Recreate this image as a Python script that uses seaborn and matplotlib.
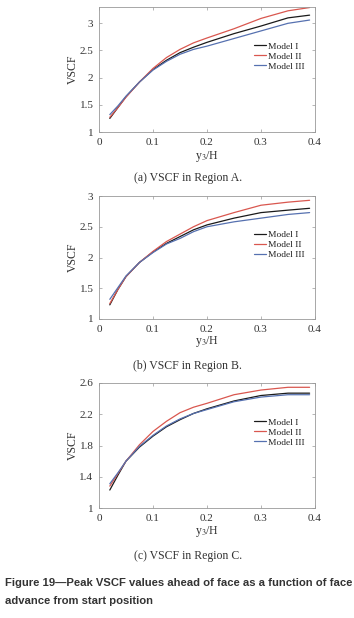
import numpy as np
import pandas as pd
import matplotlib
matplotlib.use('Agg')
import matplotlib.pyplot as plt
import seaborn as sns
from matplotlib.ticker import FuncFormatter

# values (y3/H vs peak VSCF)
x_pos = [0.02, 0.035, 0.05, 0.075, 0.1, 0.125, 0.15, 0.175, 0.2, 0.25, 0.3, 0.35, 0.39]

a_model1 = [1.25, 1.45, 1.65, 1.92, 2.15, 2.32, 2.46, 2.56, 2.65, 2.81, 2.95, 3.10, 3.15]
a_model2 = [1.27, 1.45, 1.64, 1.92, 2.17, 2.37, 2.52, 2.64, 2.73, 2.90, 3.09, 3.23, 3.29]
a_model3 = [1.32, 1.48, 1.66, 1.92, 2.14, 2.30, 2.43, 2.52, 2.58, 2.72, 2.86, 3.00, 3.06]

b_model1 = [1.23, 1.48, 1.69, 1.92, 2.09, 2.23, 2.34, 2.45, 2.53, 2.64, 2.73, 2.77, 2.80]
b_model2 = [1.25, 1.48, 1.69, 1.92, 2.10, 2.26, 2.38, 2.50, 2.60, 2.73, 2.85, 2.90, 2.93]
b_model3 = [1.32, 1.51, 1.70, 1.92, 2.08, 2.22, 2.31, 2.42, 2.50, 2.58, 2.64, 2.70, 2.73]

c_model1 = [1.23, 1.42, 1.60, 1.78, 1.92, 2.04, 2.13, 2.21, 2.27, 2.37, 2.44, 2.47, 2.47]
c_model2 = [1.28, 1.44, 1.60, 1.81, 1.98, 2.11, 2.22, 2.29, 2.34, 2.45, 2.51, 2.545, 2.545]
c_model3 = [1.31, 1.45, 1.60, 1.79, 1.93, 2.05, 2.14, 2.21, 2.26, 2.36, 2.42, 2.45, 2.45]

models = ['Model I', 'Model II', 'Model III']
x_ticks = [0, 0.1, 0.2, 0.3, 0.4]
a_yticks = [1, 1.5, 2, 2.5, 3]
b_yticks = [1, 1.5, 2, 2.5, 3]
c_yticks = [1, 1.4, 1.8, 2.2, 2.6]
captions = ['(a) VSCF in Region A.', '(b) VSCF in Region B.', '(c) VSCF in Region C.']

palette = {'Model I': '#1a1a1a', 'Model II': '#d9574f', 'Model III': '#5671b0'}

sns.set_style('white')
plt.rcParams['font.family'] = ['Liberation Serif', 'DejaVu Serif']
plt.rcParams['mathtext.fontset'] = 'stix'


def make_df(s1, s2, s3):
    rows = []
    for name, vals in zip(models, [s1, s2, s3]):
        for xv, yv in zip(x_pos, vals):
            rows.append({'x': xv, 'VSCF': yv, 'model': name})
    return pd.DataFrame(rows)


panels = [
    (make_df(a_model1, a_model2, a_model3), (1, 3.3), a_yticks, [7, 132], 149, 178),
    (make_df(b_model1, b_model2, b_model3), (1, 3.0), b_yticks, [196, 319], 334, 366),
    (make_df(c_model1, c_model2, c_model3), (1, 2.6), c_yticks, [383, 508], 524, 556),
]

W, H = 354, 618
fig = plt.figure(figsize=(W / 100, H / 100), dpi=100)
left, right = 99, 315

for (df, ylim, yticks, (top, bot), xlab_y, cap_y), cap in zip(panels, captions):
    ax = fig.add_axes([left / W, 1 - bot / H, (right - left) / W, (bot - top) / H])
    sns.lineplot(data=df, x='x', y='VSCF', hue='model', palette=palette,
                 linewidth=0.9, ax=ax)
    ax.set_xlim(0, 0.4)
    ax.set_ylim(*ylim)
    ax.set_xticks(x_ticks)
    ax.set_yticks(yticks)
    ax.xaxis.set_major_formatter(FuncFormatter(lambda v, p: '%g' % v))
    ax.yaxis.set_major_formatter(FuncFormatter(lambda v, p: '%g' % v))
    ax.tick_params(direction='in', length=2.5, width=0.5, colors='#999999',
                   labelcolor='#333333', labelsize=8, top=True, right=True,
                   bottom=True, left=True, pad=4)
    for sp in ax.spines.values():
        sp.set_color('#999999')
        sp.set_linewidth(0.6)
    ax.set_xlabel(r'y$_3$/H', fontsize=8.5, color='#333333')
    ax.xaxis.set_label_coords(0.5, -(xlab_y - bot) / (bot - top))
    ax.set_ylabel('VSCF', fontsize=8.5, color='#333333')
    ax.yaxis.set_label_coords(-0.095, 0.5)
    leg = ax.legend(loc='upper right', bbox_to_anchor=(0.97, 0.75), frameon=False,
                    fontsize=6.8, handlelength=1.3, handletextpad=0.2,
                    labelspacing=0.15, borderaxespad=0)
    for t in leg.get_texts():
        t.set_color('#222222')
    fig.text(0.5 + 0.03, 1 - cap_y / H, cap, ha='center', va='center',
             fontsize=8.5, color='#333333')

fig.text(5 / W, 1 - 583 / H, 'Figure 19\u2014Peak VSCF values ahead of face as a function of face',
         ha='left', va='center', fontsize=8.1, fontweight='bold',
         family=['Liberation Sans', 'DejaVu Sans'], color='#333333')
fig.text(5 / W, 1 - 601 / H, 'advance from start position',
         ha='left', va='center', fontsize=8.1, fontweight='bold',
         family=['Liberation Sans', 'DejaVu Sans'], color='#333333')

fig.savefig('out.png', dpi=100)
